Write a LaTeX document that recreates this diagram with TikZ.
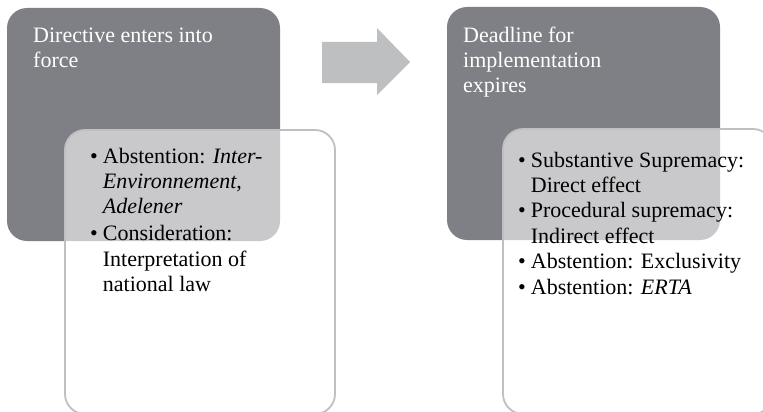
\documentclass[tikz,border=0pt]{standalone}
\usepackage{fontspec}
\setmainfont{Liberation Serif}
\definecolor{stagegrey}{RGB}{127,128,133}
\definecolor{arrowgrey}{RGB}{190,191,193}
\definecolor{panelline}{RGB}{192,192,194}
\tikzset{
  stagebox/.style={fill=stagegrey, draw=none, rounded corners=20pt},
  panelbox/.style={fill=white, fill opacity=0.58, draw=panelline, draw opacity=1,
    line width=1.8pt, rounded corners=20pt},
  titletext/.style={anchor=base west, inner sep=0pt, text=white,
    font=\fontsize{22}{25}\selectfont},
  listtext/.style={anchor=base west, inner sep=0pt, text=black,
    font=\fontsize{22}{25.4}\selectfont},
}
\newcommand{\bul}{\textbullet}
\begin{document}
\begin{tikzpicture}[x=1pt, y=-1pt]
  \useasboundingbox (0,0) rectangle (763,412);
  % dark stage boxes
  \path[stagebox] (7,8) rectangle (280,241) coordinate (s1corner);
  \path[stagebox] (447,7) rectangle (720,240) coordinate (s2corner);
  \node[titletext] (t1) at (33,43) {\parbox[t]{230pt}{Directive enters into\\force}};
  \node[titletext] (t2) at (463,43) {\parbox[t]{230pt}{Deadline for\\implementation\\expires}};
  % block arrow between the stages
  \fill[arrowgrey] (322,42) -- (377,42) -- (377,28) -- (410,62)
     -- (377,95) -- (377,83) -- (322,83) -- cycle;
  % light detail panels
  \path[panelbox] (65,130) rectangle (335,414);
  \path[panelbox] (503,129) rectangle (773,414);
  \node[listtext] (l1) at (90,163) {%
    \begin{tabular}[t]{@{}l@{\hspace{5pt}}l@{}}
      \bul & Abstention: \textit{Inter-}\\
           & \textit{Environnement},\\
           & \textit{Adelener}\\[1.5pt]
      \bul & Consideration:\\
           & Interpretation of\\
           & national law
    \end{tabular}};
  \node[listtext] (l2) at (518,167) {%
    \begin{tabular}[t]{@{}l@{\hspace{5pt}}l@{}}
      \bul & Substantive Supremacy:\\
           & Direct effect\\
      \bul & Procedural supremacy:\\
           & Indirect effect\\
      \bul & Abstention: Exclusivity\\
      \bul & Abstention: \textit{ERTA}
    \end{tabular}};
\end{tikzpicture}
\end{document}
